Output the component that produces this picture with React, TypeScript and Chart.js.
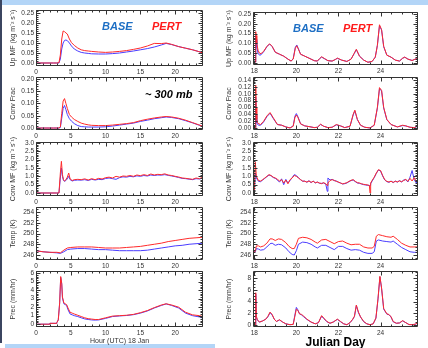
import React, { useEffect, useRef } from "react";
import { Chart, registerables } from "chart.js";

Chart.register(...registerables);

// ---------------- LEFT COLUMN DATA (Hour UTC, 18 Jan) ----------------
const leftHours = [0, 1, 2, 2.5, 3, 3.3, 3.5, 3.7, 3.9, 4.1, 4.3, 4.5, 4.8, 5.1, 5.5, 6, 6.5, 7, 7.5, 8, 9, 10, 11, 12, 13, 14, 15, 16, 17, 18, 18.7, 19.5, 20.5, 21.5, 22.5, 23.3, 24];
const leftUpPert = [0, 0, 0, 0, 0, 0.002, 0.04, 0.12, 0.16, 0.157, 0.15, 0.145, 0.12, 0.102, 0.088, 0.075, 0.066, 0.062, 0.06, 0.058, 0.055, 0.053, 0.055, 0.058, 0.062, 0.068, 0.075, 0.085, 0.098, 0.097, 0.1, 0.093, 0.082, 0.074, 0.066, 0.058, 0.05];
const leftUpBase = [0, 0, 0, 0, 0, 0, 0.02, 0.07, 0.1, 0.113, 0.115, 0.112, 0.1, 0.085, 0.07, 0.06, 0.053, 0.05, 0.048, 0.046, 0.045, 0.045, 0.047, 0.05, 0.055, 0.06, 0.066, 0.072, 0.08, 0.09, 0.098, 0.092, 0.082, 0.074, 0.066, 0.058, 0.05];
const leftFracPert = [0, 0, 0, 0, 0, 0, 0.005, 0.06, 0.11, 0.12, 0.1, 0.08, 0.055, 0.045, 0.035, 0.027, 0.02, 0.016, 0.013, 0.011, 0.01, 0.01, 0.012, 0.015, 0.018, 0.022, 0.03, 0.036, 0.041, 0.045, 0.047, 0.045, 0.04, 0.032, 0.022, 0.014, 0.007];
const leftFracBase = [0, 0, 0, 0, 0, 0, 0.002, 0.04, 0.08, 0.092, 0.075, 0.055, 0.038, 0.028, 0.018, 0.01, 0.006, 0.005, 0.004, 0.004, 0.004, 0.005, 0.008, 0.012, 0.016, 0.02, 0.027, 0.032, 0.038, 0.042, 0.045, 0.043, 0.038, 0.03, 0.021, 0.013, 0.007];

const leftMfHours = [0, 1, 2, 3, 3.3, 3.5, 3.65, 3.8, 3.95, 4.1, 4.3, 4.5, 4.7, 4.9, 5.2, 5.5, 6, 6.5, 7, 7.5, 8, 8.5, 9, 9.5, 10, 10.5, 11, 11.5, 12, 12.5, 13, 13.5, 14, 14.5, 15, 15.5, 16, 16.5, 17, 17.5, 18, 18.5, 19, 19.5, 20, 20.5, 21, 21.5, 22, 22.5, 23, 23.5, 24];
const leftMfPert = [0, 0, 0, 0, 0, 1.2, 1.9, 1.1, 0.8, 0.72, 0.8, 0.95, 1.2, 0.85, 0.75, 0.8, 0.82, 0.8, 0.85, 0.78, 0.86, 0.8, 0.88, 0.84, 0.92, 0.95, 0.9, 1.0, 0.95, 1.02, 1.0, 1.05, 1.0, 1.08, 1.04, 1.1, 1.05, 1.14, 1.08, 1.12, 1.1, 1.15, 1.08, 1.05, 1.0, 0.96, 0.9, 0.88, 0.85, 0.82, 0.9, 0.86, 0.95];
const leftMfBase = [0, 0, 0, 0, 0, 0.9, 1.5, 1.0, 0.75, 0.7, 0.75, 0.85, 1.0, 0.8, 0.72, 0.76, 0.78, 0.77, 0.8, 0.75, 0.82, 0.78, 0.82, 0.8, 0.87, 0.9, 0.86, 0.82, 0.92, 0.97, 0.95, 1.0, 0.97, 1.03, 1.0, 1.05, 1.02, 1.08, 1.05, 1.08, 1.07, 1.1, 1.06, 1.02, 0.98, 0.93, 0.88, 0.86, 0.83, 0.8, 0.86, 0.84, 0.9];

const leftTempHours = [0, 1, 2, 3, 3.5, 4, 4.5, 5, 6, 7, 8, 9, 10, 11, 12, 13, 14, 15, 16, 17, 18, 19, 20, 21, 22, 23, 24];
const leftTempPert = [246.8, 246.6, 246.5, 246.5, 246.4, 246.9, 247.3, 247.4, 247.5, 247.5, 247.5, 247.4, 247.3, 247.3, 247.3, 247.4, 247.5, 247.6, 247.8, 248.0, 248.2, 248.5, 248.7, 248.9, 249.1, 249.2, 249.3];
const leftTempBase = [246.8, 246.6, 246.5, 246.4, 246.3, 246.6, 247.0, 247.1, 247.2, 247.2, 247.1, 247.0, 247.0, 246.9, 246.8, 246.8, 246.8, 246.8, 246.9, 247.1, 247.3, 247.5, 247.7, 247.8, 248.0, 248.1, 248.2];

const leftPrecHours = [0, 1, 1.9, 2, 2.9, 3, 3.2, 3.4, 3.55, 3.7, 3.8, 4.0, 4.2, 4.4, 4.6, 4.9, 5.2, 5.5, 6, 6.5, 7, 7.5, 8, 8.5, 9, 10, 11, 12, 13, 14, 15, 16, 17, 18, 18.7, 19.5, 20.5, 21.5, 22.5, 23.5, 24];
const leftPrecPert = [0, 0, 0, 0.1, 0.1, 0.2, 0.5, 2.5, 5.6, 4.8, 3.2, 2.5, 2.4, 2.3, 1.9, 1.4, 1.3, 1.2, 1.05, 0.9, 0.75, 0.65, 0.6, 0.55, 0.55, 0.75, 0.95, 1.0, 1.05, 1.15, 1.35, 1.6, 1.95, 2.25, 2.4, 2.25, 2.0, 1.4, 1.1, 1.0, 0.9];
const leftPrecBase = [0, 0, 0, 0.1, 0.1, 0.2, 0.5, 2.5, 5.5, 4.7, 3.1, 2.4, 2.3, 2.2, 1.7, 1.2, 1.1, 1.0, 0.9, 0.75, 0.62, 0.55, 0.5, 0.48, 0.5, 0.68, 0.9, 0.97, 1.02, 1.12, 1.3, 1.55, 1.9, 2.2, 2.38, 2.2, 1.9, 1.3, 1.0, 0.85, 0.7];

// ---------------- RIGHT COLUMN DATA (Julian Day) ----------------
const rightUpDays = [17.94, 18.04, 18.07, 18.09, 18.12, 18.18, 18.25, 18.32, 18.45, 18.6, 18.73, 18.85, 19.0, 19.2, 19.4, 19.6, 19.75, 19.85, 19.95, 20.02, 20.1, 20.2, 20.4, 20.6, 20.85, 21.0, 21.1, 21.2, 21.35, 21.5, 21.7, 21.85, 21.95, 22.15, 22.4, 22.6, 22.75, 22.85, 23.0, 23.2, 23.4, 23.6, 23.75, 23.85, 23.95, 24.05, 24.15, 24.3, 24.5, 24.7, 24.9, 25.05, 25.15, 25.3, 25.5, 25.65, 25.78];
const rightUpPert = [0.005, 0.005, 0.16, 0.14, 0.1, 0.065, 0.05, 0.048, 0.06, 0.085, 0.098, 0.085, 0.055, 0.045, 0.035, 0.02, 0.01, 0.02, 0.075, 0.088, 0.07, 0.045, 0.035, 0.025, 0.012, 0.01, 0.022, 0.032, 0.022, 0.012, 0.01, 0.018, 0.025, 0.015, 0.008, 0.02, 0.05, 0.07, 0.035, 0.015, 0.004, 0.008, 0.03, 0.09, 0.195, 0.17, 0.085, 0.04, 0.03, 0.015, 0.01, 0.025, 0.03, 0.02, 0.013, 0.02, 0.03];
const rightUpBase = [0.005, 0.005, 0.14, 0.12, 0.08, 0.05, 0.04, 0.042, 0.058, 0.083, 0.097, 0.084, 0.055, 0.045, 0.035, 0.02, 0.01, 0.022, 0.08, 0.092, 0.072, 0.045, 0.035, 0.025, 0.012, 0.01, 0.022, 0.03, 0.021, 0.012, 0.01, 0.018, 0.024, 0.015, 0.008, 0.02, 0.048, 0.068, 0.035, 0.015, 0.004, 0.008, 0.03, 0.09, 0.19, 0.168, 0.083, 0.04, 0.03, 0.015, 0.01, 0.024, 0.03, 0.02, 0.013, 0.02, 0.03];

const rightFracDays = [17.94, 18.04, 18.07, 18.09, 18.12, 18.16, 18.22, 18.3, 18.45, 18.6, 18.75, 18.9, 19.1, 19.3, 19.5, 19.7, 19.85, 19.93, 20.0, 20.08, 20.2, 20.4, 20.6, 20.85, 21.0, 21.15, 21.3, 21.5, 21.7, 21.9, 22.1, 22.3, 22.55, 22.7, 22.78, 22.9, 23.05, 23.25, 23.5, 23.7, 23.85, 23.95, 24.05, 24.15, 24.3, 24.5, 24.8, 25.05, 25.2, 25.4, 25.6, 25.78];
const rightFracPert = [0, 0, 0.125, 0.06, 0.025, 0.015, 0.012, 0.01, 0.02, 0.035, 0.045, 0.03, 0.01, 0.008, 0.003, 0, 0.005, 0.03, 0.038, 0.03, 0.012, 0.006, 0.004, 0.001, 0.002, 0.011, 0.005, 0.001, 0.002, 0.01, 0.006, 0.001, 0.005, 0.04, 0.052, 0.025, 0.008, 0.002, 0, 0.008, 0.06, 0.118, 0.11, 0.06, 0.025, 0.01, 0.003, 0.008, 0.006, 0.002, 0.001, 0.006];
const rightFracBase = [0, 0, 0.09, 0.04, 0.015, 0.01, 0.008, 0.008, 0.018, 0.033, 0.043, 0.028, 0.01, 0.008, 0.003, 0, 0.006, 0.034, 0.042, 0.032, 0.012, 0.006, 0.004, 0.001, 0.002, 0.01, 0.005, 0.001, 0.002, 0.009, 0.006, 0.001, 0.005, 0.038, 0.05, 0.024, 0.008, 0.002, 0, 0.008, 0.058, 0.115, 0.108, 0.058, 0.024, 0.01, 0.003, 0.007, 0.006, 0.002, 0.001, 0.005];

const rightMfDays = [17.94, 18.0, 18.03, 18.05, 18.1, 18.2, 18.3, 18.4, 18.5, 18.6, 18.7, 18.8, 18.9, 19.0, 19.1, 19.2, 19.3, 19.4, 19.5, 19.6, 19.7, 19.8, 19.9, 20.0, 20.1, 20.2, 20.3, 20.4, 20.5, 20.6, 20.7, 20.8, 20.9, 21.0, 21.1, 21.2, 21.3, 21.4, 21.47, 21.5, 21.6, 21.7, 21.8, 21.9, 22.0, 22.1, 22.2, 22.3, 22.4, 22.5, 22.6, 22.7, 22.8, 22.9, 23.0, 23.1, 23.2, 23.3, 23.4, 23.47, 23.5, 23.53, 23.6, 23.7, 23.8, 23.9, 24.0, 24.1, 24.2, 24.3, 24.4, 24.5, 24.6, 24.7, 24.8, 24.9, 25.0, 25.1, 25.2, 25.3, 25.4, 25.5, 25.6, 25.7, 25.78];
const rightMfPert = [0, 0, 0, 1.85, 1.0, 0.75, 0.72, 0.8, 0.9, 1.0, 1.1, 1.05, 0.95, 0.9, 0.82, 0.72, 0.8, 0.6, 0.78, 0.55, 0.8, 0.9, 1.05, 1.0, 0.9, 0.8, 0.72, 0.7, 0.66, 0.72, 0.64, 0.7, 0.62, 0.65, 0.6, 0.56, 0.62, 0.55, 0.45, 0.6, 0.75, 0.8, 0.76, 0.7, 0.66, 0.6, 0.55, 0.58, 0.62, 0.7, 0.76, 0.8, 0.7, 0.62, 0.6, 0.55, 0.52, 0.5, 0.48, 0.45, 0.0, 0.6, 0.75, 0.95, 1.2, 1.4, 1.35, 1.05, 0.8, 0.7, 0.66, 0.7, 0.64, 0.7, 0.67, 0.72, 0.68, 0.75, 0.82, 0.7, 0.88, 0.72, 0.92, 0.68, 0.85];
const rightMfBase = [0, 0, 0, 1.2, 0.9, 0.7, 0.68, 0.78, 0.88, 0.98, 1.08, 1.03, 0.93, 0.88, 0.78, 0.65, 0.85, 0.5, 0.82, 0.6, 0.75, 0.92, 1.1, 1.05, 0.92, 0.8, 0.7, 0.72, 0.64, 0.74, 0.62, 0.72, 0.6, 0.66, 0.58, 0.58, 0.6, 0.52, 0.1, 0.9, 0.78, 0.82, 0.74, 0.72, 0.64, 0.6, 0.54, 0.56, 0.6, 0.68, 0.75, 0.78, 0.68, 0.6, 0.58, 0.54, 0.5, 0.48, 0.46, 0.45, 0.46, 0.55, 0.72, 0.92, 1.18, 1.38, 1.32, 1.02, 0.78, 0.68, 0.64, 0.72, 0.62, 0.72, 0.65, 0.75, 0.66, 0.78, 0.8, 0.66, 0.95, 1.35, 0.8, 0.6, 0.9];

const rightTempDays = [17.94, 18.05, 18.1, 18.2, 18.3, 18.45, 18.6, 18.75, 18.85, 19.0, 19.15, 19.3, 19.5, 19.65, 19.8, 19.9, 20.0, 20.1, 20.3, 20.5, 20.7, 20.9, 21.0, 21.2, 21.4, 21.6, 21.8, 22.0, 22.2, 22.4, 22.6, 22.8, 23.0, 23.2, 23.4, 23.6, 23.7, 23.8, 23.9, 24.1, 24.3, 24.5, 24.6, 24.8, 25.0, 25.2, 25.4, 25.6, 25.78];
const rightTempPert = [246.7, 246.7, 247.7, 247.7, 247.5, 247.7, 248.2, 249.0, 249.0, 248.7, 249.0, 248.9, 248.3, 247.6, 247.2, 247.2, 248.0, 249.1, 249.3, 249.2, 248.9, 248.4, 248.2, 248.8, 248.9, 248.5, 248.1, 248.5, 248.6, 248.2, 247.9, 248.0, 248.0, 247.5, 247.3, 247.3, 247.6, 249.5, 249.8, 249.6, 249.4, 249.3, 249.5, 248.9, 248.2, 247.8, 247.5, 247.5, 247.5];
const rightTempBase = [246.6, 246.6, 247.2, 247.1, 246.9, 247.0, 247.5, 248.1, 248.2, 247.8, 248.0, 247.9, 247.3, 246.6, 246.1, 246.0, 246.8, 248.0, 248.4, 248.3, 248.0, 247.5, 247.3, 247.8, 247.8, 247.4, 247.0, 247.6, 247.6, 247.2, 246.9, 247.0, 246.9, 246.5, 246.3, 246.3, 246.6, 248.6, 248.8, 248.6, 248.5, 248.4, 248.6, 248.0, 247.4, 247.0, 246.6, 246.5, 246.5];

const rightPrecDays = [17.94, 18.04, 18.07, 18.1, 18.15, 18.25, 18.4, 18.55, 18.65, 18.75, 18.85, 18.95, 19.05, 19.2, 19.35, 19.5, 19.7, 19.85, 19.93, 20.0, 20.07, 20.15, 20.25, 20.35, 20.5, 20.7, 20.9, 21.05, 21.2, 21.3, 21.45, 21.6, 21.75, 21.95, 22.1, 22.25, 22.4, 22.55, 22.68, 22.76, 22.85, 22.95, 23.05, 23.2, 23.35, 23.5, 23.65, 23.78, 23.88, 23.97, 24.05, 24.15, 24.3, 24.4, 24.5, 24.6, 24.75, 24.9, 25.05, 25.2, 25.35, 25.5, 25.65, 25.78];
const rightPrecPert = [0, 0, 5.5, 1.5, 0.9, 0.5, 0.7, 1.0, 1.5, 2.2, 1.8, 1.0, 0.6, 0.9, 0.5, 0.2, 0.05, 0.1, 1.5, 2.7, 2.5, 1.9, 1.8, 1.5, 1.0, 0.5, 0.2, 0.4, 1.6, 1.2, 0.6, 0.3, 0.5, 1.0, 0.6, 0.2, 0.05, 0.4, 1.0, 1.5, 3.4, 2.2, 1.4, 0.6, 0.2, 0.05, 0.2, 1.2, 4.5, 8.3, 6.3, 2.8, 1.9, 1.8, 1.4, 0.6, 0.3, 0.35, 0.75, 0.4, 0.08, 0.05, 0.15, 0.4];
const rightPrecBase = [0, 0, 5.3, 1.3, 0.8, 0.5, 0.7, 1.0, 1.4, 2.1, 1.7, 1.0, 0.6, 0.85, 0.5, 0.2, 0.05, 0.12, 1.7, 3.0, 2.6, 1.9, 1.7, 1.4, 0.95, 0.5, 0.2, 0.4, 1.5, 1.1, 0.55, 0.3, 0.5, 0.95, 0.55, 0.2, 0.05, 0.4, 0.95, 1.45, 3.3, 2.1, 1.35, 0.55, 0.2, 0.05, 0.2, 1.15, 4.4, 8.2, 6.2, 2.7, 1.85, 1.75, 1.35, 0.55, 0.3, 0.35, 0.7, 0.4, 0.08, 0.05, 0.12, 0.35];

// axis titles / labels
const yTitles = ["Up MF (kg m\u207B\u00B2 s\u207B\u00B9)", "Conv Frac", "Conv MF (kg m\u207B\u00B2 s\u207B\u00B9)", "Temp (K)", "Prec (mm/hr)"];
const leftXTitle = "Hour (UTC) 18 Jan";
const rightXTitle = "Julian Day";
const seriesNames = ["BASE", "PERT"];
const levelLabel = "~ 300 mb";

const FONT = "'Liberation Sans', Arial, Helvetica, sans-serif";
const RED = "#ff2a2a";
const BLUE = "#4a3cff";

// titleX is relative to the column's canvas
const COLS: any = {
  L: { left: 0, width: 214, boxLeft: 36, boxRight: 203, titleX: 13, xMin: 0, xMax: 24, xStep: 5, xMinor: 1 },
  R: { left: 214, width: 214, boxLeft: 253, boxRight: 418, titleX: 15, xMin: 17.94, xMax: 25.78, xStep: 2, xMinor: 0.5 },
};
const ROWS: any = {
  L: [[10, 66], [77, 130], [142, 196], [207, 260], [271, 327]],
  R: [[12, 65], [77, 130], [142, 196], [207, 260], [271, 327]],
};

const framePlugin: any = {
  id: "idlFrame",
  afterDatasetsDraw(chart: any, _args: any, opts: any) {
    const { ctx, chartArea: a } = chart;
    const xs = chart.scales.x;
    const ys = chart.scales.y;
    const L = Math.round(a.left) + 0.5;
    const R = Math.round(a.right) - 0.5;
    const T = Math.round(a.top) + 0.5;
    const B = Math.round(a.bottom) - 0.5;
    ctx.save();
    ctx.strokeStyle = "#333";
    ctx.lineWidth = 1;
    ctx.beginPath();
    ctx.rect(L, T, R - L, B - T);
    const addX = (v: number, len: number) => {
      const px = Math.round(xs.getPixelForValue(v)) + 0.5;
      if (px < L || px > R) return;
      ctx.moveTo(px, B); ctx.lineTo(px, B - len);
      ctx.moveTo(px, T); ctx.lineTo(px, T + len);
    };
    const addY = (v: number, len: number) => {
      const py = Math.round(ys.getPixelForValue(v)) + 0.5;
      if (py < T || py > B) return;
      ctx.moveTo(L, py); ctx.lineTo(L + len, py);
      ctx.moveTo(R, py); ctx.lineTo(R - len, py);
    };
    xs.ticks.forEach((t: any) => addX(t.value, 4));
    ys.ticks.forEach((t: any) => addY(t.value, 4));
    for (let k = Math.ceil(xs.min / opts.xMinor - 1e-6); k * opts.xMinor <= xs.max + 1e-9; k++) addX(k * opts.xMinor, 2);
    for (let k = Math.ceil(ys.min / opts.yMinor - 1e-6); k * opts.yMinor <= ys.max + 1e-9; k++) addY(k * opts.yMinor, 2);
    ctx.stroke();
    ctx.restore();
  },
};

function Panel(p: any) {
  const ref = useRef<HTMLCanvasElement>(null);
  const col = COLS[p.col];
  const [bt, bb] = ROWS[p.col][p.row];
  const padT = 24;
  const padB = 2;
  const xh = p.xTitle ? p.xTitleH : 10;
  const height = bb - bt + padT + xh + padB;
  const padL = col.titleX - 4.2;

  useEffect(() => {
    const toXY = (ys: number[]) => p.xs.map((x: number, i: number) => ({ x, y: ys[i] }));
    const chart = new Chart(ref.current as HTMLCanvasElement, {
      type: "line",
      data: {
        datasets: [
          { label: seriesNames[1], data: toXY(p.pert), borderColor: RED, borderWidth: 1, pointRadius: 0, tension: 0, order: 0 },
          { label: seriesNames[0], data: toXY(p.base), borderColor: BLUE, borderWidth: 1, pointRadius: 0, tension: 0, order: 1 },
        ],
      },
      options: {
        responsive: false,
        animation: false,
        events: [],
        layout: { autoPadding: false, padding: { left: padL, right: col.left + col.width - col.boxRight, top: padT, bottom: padB } },
        plugins: {
          legend: { display: false },
          tooltip: { enabled: false },
          idlFrame: { xMinor: col.xMinor, yMinor: p.yMinor },
        } as any,
        scales: {
          x: {
            type: "linear",
            min: col.xMin,
            max: col.xMax,
            grid: { display: false, drawTicks: false },
            border: { display: false },
            ticks: { stepSize: col.xStep, includeBounds: false, autoSkip: false, maxRotation: 0, padding: 2, color: "#333", font: { family: FONT, size: 6.5 } },
            title: p.xTitle
              ? { display: true, text: p.xTitle, padding: 0, color: p.xTitleColor, font: { family: FONT, size: p.xTitleSize, weight: p.xTitleWeight } }
              : { display: false },
            afterFit: (s: any) => { s.height = xh; },
          },
          y: {
            type: "linear",
            min: p.yMin,
            max: p.yMax,
            grid: { display: false, drawTicks: false },
            border: { display: false },
            ticks: {
              stepSize: p.yStep, includeBounds: false, autoSkip: false, padding: 2, color: "#333",
              font: { family: FONT, size: 6.5 },
              callback: (v: any) => Number(v).toFixed(p.yDec),
            },
            title: { display: true, text: p.yTitle, padding: 0, color: "#333", font: { family: FONT, size: 7 } },
            afterFit: (s: any) => { s.width = col.boxLeft - col.left - padL; },
          },
        } as any,
      },
      plugins: [framePlugin],
    } as any);
    return () => chart.destroy();
  }, []);

  return (
    <canvas
      ref={ref}
      width={col.width}
      height={height}
      style={{ position: "absolute", left: col.left, top: bt - padT, width: col.width, height }}
    />
  );
}

const labelStyle = (left: number, cy: number, color: string): any => ({
  position: "absolute",
  left,
  top: cy - 7,
  lineHeight: "14px",
  fontFamily: FONT,
  fontSize: 11,
  fontWeight: "bold",
  fontStyle: "italic",
  color,
  whiteSpace: "nowrap",
});

export default function App() {
  return (
    <div style={{ position: "fixed", left: 0, top: 0, width: 428, height: 348, overflow: "hidden", background: "#fff" }}>
      <div style={{ position: "absolute", left: 0, top: 0, width: 428, height: 5, background: "#b3d5f7" }} />
      <div style={{ position: "absolute", left: 0, top: 0, width: 2, height: 343, background: "#3b4560" }} />
      <div style={{ position: "absolute", left: 5, top: 344, width: 210, height: 4, background: "#b3d5f7" }} />

      <Panel col="L" row={0} xs={leftHours} base={leftUpBase} pert={leftUpPert} yMin={-0.015} yMax={0.265} yStep={0.05} yMinor={0.01} yDec={2} yTitle={yTitles[0]} />
      <Panel col="L" row={1} xs={leftHours} base={leftFracBase} pert={leftFracPert} yMin={-0.008} yMax={0.208} yStep={0.05} yMinor={0.01} yDec={2} yTitle={yTitles[1]} />
      <Panel col="L" row={2} xs={leftMfHours} base={leftMfBase} pert={leftMfPert} yMin={-0.18} yMax={3.06} yStep={0.5} yMinor={0.1} yDec={1} yTitle={yTitles[2]} />
      <Panel col="L" row={3} xs={leftTempHours} base={leftTempBase} pert={leftTempPert} yMin={245.07} yMax={254.93} yStep={2} yMinor={0.5} yDec={0} yTitle={yTitles[3]} />
      <Panel col="L" row={4} xs={leftPrecHours} base={leftPrecBase} pert={leftPrecPert} yMin={-0.33} yMax={6.25} yStep={1} yMinor={0.2} yDec={0} yTitle={yTitles[4]}
        xTitle={leftXTitle} xTitleH={18} xTitleSize={7} xTitleWeight="normal" xTitleColor="#333" />

      <Panel col="R" row={0} xs={rightUpDays} base={rightUpBase} pert={rightUpPert} yMin={-0.01} yMax={0.26} yStep={0.05} yMinor={0.01} yDec={2} yTitle={yTitles[0]} />
      <Panel col="R" row={1} xs={rightFracDays} base={rightFracBase} pert={rightFracPert} yMin={-0.006} yMax={0.149} yStep={0.02} yMinor={0.005} yDec={2} yTitle={yTitles[1]} />
      <Panel col="R" row={2} xs={rightMfDays} base={rightMfBase} pert={rightMfPert} yMin={-0.18} yMax={3.06} yStep={0.5} yMinor={0.1} yDec={1} yTitle={yTitles[2]} />
      <Panel col="R" row={3} xs={rightTempDays} base={rightTempBase} pert={rightTempPert} yMin={245.07} yMax={254.93} yStep={2} yMinor={0.5} yDec={0} yTitle={yTitles[3]} />
      <Panel col="R" row={4} xs={rightPrecDays} base={rightPrecBase} pert={rightPrecPert} yMin={-0.34} yMax={9.2} yStep={2} yMinor={0.5} yDec={0} yTitle={yTitles[4]}
        xTitle={rightXTitle} xTitleH={23} xTitleSize={12} xTitleWeight="bold" xTitleColor="#000" />

      <span style={labelStyle(102, 26, "#1e6fc4")}>{seriesNames[0]}</span>
      <span style={labelStyle(152, 26, "#ff1a1a")}>{seriesNames[1]}</span>
      <span style={labelStyle(293, 28, "#1e6fc4")}>{seriesNames[0]}</span>
      <span style={labelStyle(343, 28, "#ff1a1a")}>{seriesNames[1]}</span>
      <span style={labelStyle(145, 94, "#000")}>{levelLabel}</span>
    </div>
  );
}
